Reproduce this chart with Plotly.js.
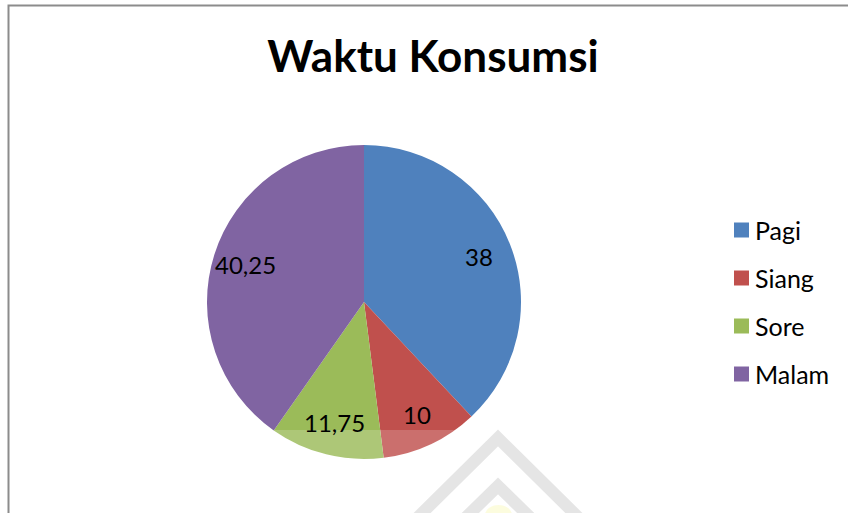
<!DOCTYPE html>
<html>
<head>
<meta charset="utf-8">
<script src="https://cdn.plot.ly/plotly-3.0.1.min.js"></script>
<style>html,body{margin:0;padding:0;background:#fff;}#chart{width:848px;height:513px;}</style>
</head>
<body>
<div id="chart"></div>
<script>
// Data
var categories = ["Pagi", "Siang", "Sore", "Malam"];
var values = [38, 10, 11.75, 40.25];
var colors = ["#4F81BD", "#C0504D", "#9BBB59", "#8064A2"];
var chartTitle = "Waktu Konsumsi";

var W = 848, H = 513;
function px(x) { return x / W; }
function py(y) { return 1 - y / H; }

// pie geometry (pixels)
var cx = 364, cy = 302, R = 157;

var trace = {
  type: "pie",
  labels: categories,
  values: values,
  sort: false,
  direction: "clockwise",
  rotation: 0,
  marker: { colors: colors, line: { width: 0 } },
  textinfo: "none",
  hoverinfo: "label+value",
  showlegend: false,
  domain: { x: [px(cx - R), px(cx + R)], y: [py(cy + R), py(cy - R)] }
};

var annotations = [];
var shapes = [];
var total = values.reduce(function (a, b) { return a + b; }, 0);
var cum = 0;
for (var i = 0; i < values.length; i++) {
  var mid = (cum + values[i] / 2) / total * 2 * Math.PI;
  cum += values[i];
  var rr = R * 0.79;
  var lx = cx + rr * Math.sin(mid);
  var ly = cy - rr * Math.cos(mid);
  annotations.push({
    xref: "paper", yref: "paper", x: px(lx), y: py(ly),
    xanchor: "center", yanchor: "middle", showarrow: false,
    text: String(values[i]).replace(".", ","),
    font: { family: "Lato, 'Open Sans', sans-serif", size: 24, color: "#000" }
  });
  // legend
  var ey = 230 + i * 48;
  shapes.push({
    type: "rect", xref: "paper", yref: "paper",
    x0: px(734), x1: px(749), y0: py(ey + 7.5), y1: py(ey - 7.5),
    fillcolor: colors[i], line: { width: 0 }
  });
  annotations.push({
    xref: "paper", yref: "paper", x: px(753), y: py(ey),
    xanchor: "left", yanchor: "middle", showarrow: false,
    text: categories[i],
    font: { family: "Lato, 'Open Sans', sans-serif", size: 25, color: "#000" }
  });
}

// chart frame
shapes.push({
  type: "rect", xref: "paper", yref: "paper",
  x0: px(8.5), x1: px(900), y0: py(600), y1: py(5.5),
  line: { color: "#8c8c8c", width: 2 }, fillcolor: "rgba(0,0,0,0)"
});
// faint watermark
function pathPx(pts) {
  return pts.map(function (p, k) { return (k ? "L" : "M") + px(p[0]) + "," + py(p[1]); }).join(" ");
}
shapes.push({
  type: "rect", xref: "paper", yref: "paper",
  x0: px(150), x1: px(700), y0: py(540), y1: py(430),
  fillcolor: "rgba(255,255,255,0.18)", line: { width: 0 }, layer: "above"
});
shapes.push({
  type: "path", xref: "paper", yref: "paper", layer: "above",
  path: pathPx([[410, 525], [498, 438], [586, 525]]),
  line: { color: "rgba(220,220,220,0.75)", width: 12 }
});
shapes.push({
  type: "path", xref: "paper", yref: "paper", layer: "above",
  path: pathPx([[458, 525], [498, 486], [538, 525]]),
  line: { color: "rgba(220,220,220,0.75)", width: 12 }
});
shapes.push({
  type: "circle", xref: "paper", yref: "paper", layer: "above",
  x0: px(485), x1: px(512), y0: py(525), y1: py(505),
  fillcolor: "rgba(250,250,200,0.6)", line: { width: 0 }
});

var layout = {
  width: W, height: H,
  margin: { l: 0, r: 0, t: 0, b: 0 },
  paper_bgcolor: "#fff",
  separators: ",.",
  showlegend: false,
  title: {
    text: "<b>" + chartTitle + "</b>",
    x: px(433), xanchor: "center", xref: "paper",
    y: py(57), yanchor: "middle", yref: "container",
    font: { family: "Lato, 'Open Sans', sans-serif", size: 44, color: "#000" }
  },
  annotations: annotations,
  shapes: shapes
};

Plotly.newPlot("chart", [trace], layout, { displayModeBar: false, staticPlot: true });
</script>
</body>
</html>
